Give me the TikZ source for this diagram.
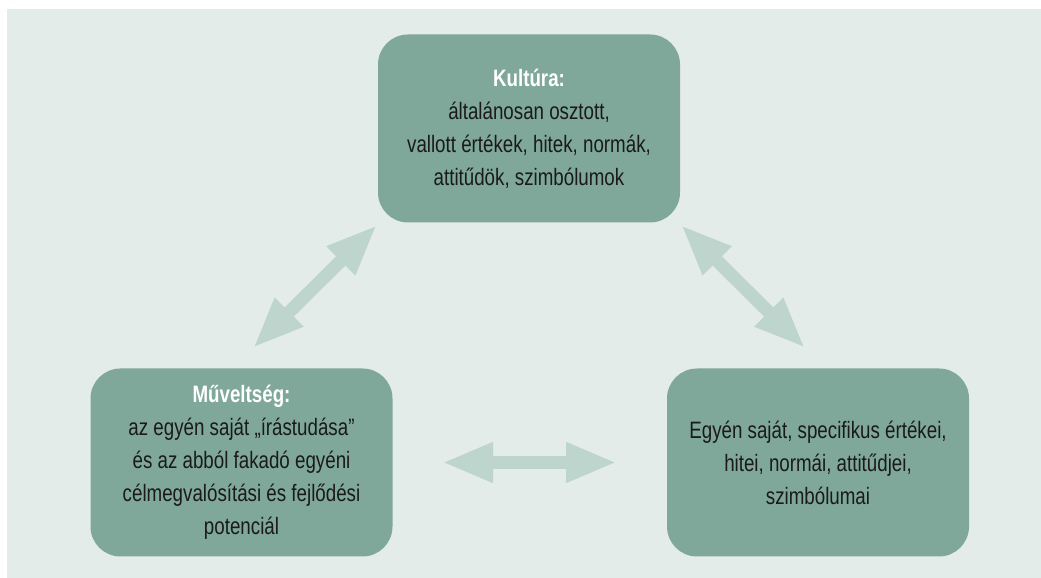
\documentclass[tikz,border=0pt]{standalone}
\usepackage{fontspec}
\setmainfont{Liberation Sans}[FakeStretch=0.79]
\definecolor{bgmint}{RGB}{227, 236, 233}
\definecolor{boxsage}{RGB}{127, 168, 155}
\definecolor{arrowmint}{RGB}{190, 213, 206}
\definecolor{textdark}{RGB}{26, 26, 26}
\usetikzlibrary{arrows.meta, positioning, calc}

\begin{document}
\begin{tikzpicture}[
    sagebox/.style={fill=boxsage, rounded corners=0.6cm, minimum width=6.04cm, minimum height=3.76cm,
      align=center, text=textdark, font=\fontsize{13.5}{18.8}\selectfont, inner sep=0pt},
    twoway/.style={line width=0.26cm, arrowmint, {Triangle[length=1.02cm, width=0.74cm]}-{Triangle[length=1.02cm, width=0.74cm]}}
  ]
  % Background
  \useasboundingbox (0, 0) rectangle (20.82, 11.56);
  \fill[white] (0, 0) rectangle (20.82, 11.56);
  \fill[bgmint] (0.14, 0) rectangle (20.82, 11.38);

  % Culture
  \node[sagebox] (kult) at (10.58, 8.99) {
    {\bfseries\color{white}Kultúra:}\\
    általánosan osztott,\\
    vallott értékek, hitek, normák,\\
    attitűdök, szimbólumok
  };

  % Literacy
  \node[sagebox] (muv) at (4.83, 2.31) {
    {\bfseries\color{white}Műveltség:}\\
    az egyén saját „írástudása”\\
    és az abból fakadó egyéni\\
    célmegvalósítási és fejlődési\\
    potenciál
  };

  % Individual values
  \node[sagebox] (egyen) at (16.36, 2.31) {
    Egyén saját, specifikus értékei,\\
    hitei, normái, attitűdjei,\\
    szimbólumai
  };

  % Arrow ends
  \coordinate (muvTop) at (5.06, 4.60);
  \coordinate (kultLeft) at (7.54, 7.06);
  \coordinate (kultRight) at (13.62, 7.06);
  \coordinate (egyenTop) at (16.10, 4.60);
  \coordinate (muvRight) at (8.84, 2.31);
  \coordinate (egyenLeft) at (12.34, 2.31);

  % Two-way arrows
  \draw[twoway] (muvTop) -- (kultLeft);
  \draw[twoway] (kultRight) -- (egyenTop);
  \draw[twoway] (muvRight) -- (egyenLeft);
\end{tikzpicture}
\end{document}
